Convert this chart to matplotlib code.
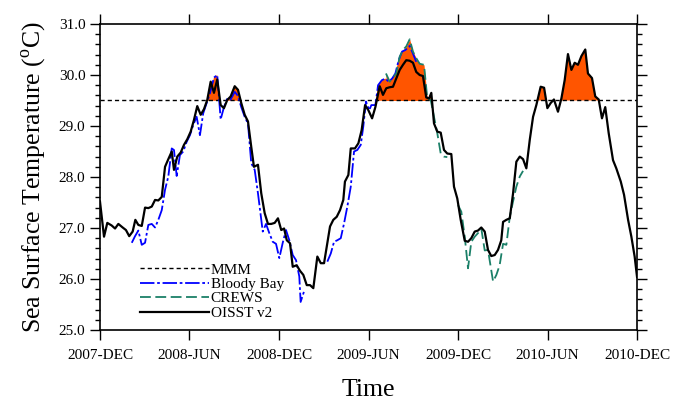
import numpy as np
import matplotlib
matplotlib.use("Agg")
import matplotlib.pyplot as plt

plt.rcParams['font.family'] = ['Liberation Serif', 'DejaVu Serif']
plt.rcParams['mathtext.fontset'] = 'custom'
plt.rcParams['mathtext.rm'] = 'Liberation Serif'

# x values: months since 2007-DEC
tick_labels = ["2007-DEC", "2008-JUN", "2008-DEC", "2009-JUN", "2009-DEC", "2010-JUN", "2010-DEC"]
tick_months = [0, 6, 12, 18, 24, 30, 36]

mmm = 29.5

oisst_t = [0.00, 0.27, 0.49, 0.78, 1.01, 1.23, 1.52, 1.74, 1.96, 2.19, 2.37, 2.57, 2.80, 3.02, 3.24, 3.47,
           3.69, 3.91, 4.14, 4.36, 4.58, 4.81, 4.96, 5.18, 5.41, 5.63, 5.85, 6.08, 6.30, 6.52, 6.75, 6.97,
           7.19, 7.42, 7.64, 7.86, 8.09, 8.31, 8.53, 8.76, 9.03, 9.25, 9.47, 9.70, 9.92, 10.14, 10.32, 10.59,
           10.81, 11.04, 11.26, 11.48, 11.71, 11.93, 12.15, 12.34, 12.52, 12.74, 12.92, 13.18, 13.41, 13.63,
           13.86, 14.08, 14.30, 14.57, 14.80, 15.02, 15.42, 15.64, 15.87, 16.09, 16.31, 16.42, 16.65, 16.81,
           17.09, 17.32, 17.54, 17.77, 17.99, 18.24, 18.46, 18.75, 18.97, 19.19, 19.42, 19.64, 19.86, 20.09,
           20.31, 20.53, 20.76, 20.98, 21.20, 21.43, 21.65, 21.87, 22.06, 22.21, 22.39, 22.61, 22.84, 23.06,
           23.28, 23.55, 23.73, 23.95, 24.18, 24.45, 24.67, 24.89, 25.12, 25.34, 25.56, 25.79, 26.01, 26.23,
           26.46, 26.68, 26.90, 27.02, 27.24, 27.47, 27.69, 27.91, 28.14, 28.36, 28.58, 28.81, 29.03, 29.25,
           29.54, 29.77, 29.99, 30.21, 30.43, 30.70, 30.93, 31.15, 31.37, 31.60, 31.82, 32.04, 32.27, 32.53,
           32.71, 32.98, 33.20, 33.43, 33.65, 33.87, 34.10, 34.39, 34.61, 34.91, 35.13, 35.40, 35.62, 35.84,
           36.00]
oisst_v = [27.52, 26.83, 27.10, 27.05, 26.99, 27.08, 27.01, 26.96, 26.84, 26.93, 27.16, 27.06, 27.04, 27.40,
           27.39, 27.42, 27.55, 27.54, 27.61, 28.20, 28.35, 28.50, 28.14, 28.40, 28.48, 28.63, 28.74, 28.89,
           29.12, 29.39, 29.22, 29.33, 29.51, 29.87, 29.65, 29.91, 29.41, 29.35, 29.51, 29.58, 29.78, 29.71,
           29.45, 29.22, 29.09, 28.59, 28.20, 28.24, 27.68, 27.29, 27.08, 27.08, 27.10, 27.19, 26.96, 26.99,
           26.76, 26.70, 26.24, 26.27, 26.16, 26.08, 25.88, 25.88, 25.82, 26.44, 26.31, 26.31, 27.03, 27.16,
           27.22, 27.35, 27.55, 27.91, 28.04, 28.56, 28.56, 28.66, 28.92, 29.41, 29.31, 29.15, 29.37, 29.78,
           29.61, 29.74, 29.76, 29.77, 29.93, 30.10, 30.20, 30.29, 30.28, 30.24, 30.06, 30.00, 29.98, 29.56,
           29.54, 29.65, 29.05, 28.89, 28.87, 28.53, 28.46, 28.45, 27.81, 27.58, 27.16, 26.75, 26.73, 26.80,
           26.93, 26.95, 27.01, 26.93, 26.57, 26.45, 26.47, 26.57, 26.76, 27.12, 27.16, 27.19, 27.68, 28.30,
           28.40, 28.35, 28.17, 28.73, 29.18, 29.41, 29.77, 29.75, 29.35, 29.45, 29.52, 29.28, 29.54, 29.90,
           30.41, 30.10, 30.24, 30.20, 30.37, 30.50, 30.03, 29.94, 29.58, 29.52, 29.15, 29.37, 28.86, 28.33,
           28.17, 27.91, 27.65, 27.16, 26.83, 26.44, 26.04]

bloody_t = [2.13, 2.35, 2.57, 2.80, 3.02, 3.24, 3.47, 3.69, 3.91, 4.14, 4.36, 4.58, 4.81, 4.96, 5.14, 5.36,
            5.58, 5.81, 6.03, 6.25, 6.48, 6.70, 6.92, 7.15, 7.37, 7.64, 7.86, 8.09, 8.31, 8.53, 8.76, 9.03,
            9.25, 9.47, 9.70, 9.92, 10.14, 10.37, 10.59, 10.91, 11.13, 11.35, 11.58, 11.80, 12.02, 12.25,
            12.47, 12.69, 12.92, 13.14, 13.36, 13.45, 13.67, 14.40,
            15.24, 15.47, 15.69, 15.91, 16.14, 16.36, 16.58, 16.81, 17.03, 17.25, 17.48, 17.65, 17.83, 18.05,
            18.19, 18.46, 18.64, 18.90, 19.13, 19.35, 19.58, 19.80, 20.02, 20.25, 20.47, 20.76, 20.98, 21.20]
bloody_v = [26.71, 26.84, 26.95, 26.67, 26.71, 27.06, 27.08, 27.01, 27.16, 27.35, 27.75, 28.01, 28.56, 28.53,
            28.02, 28.43, 28.50, 28.69, 28.82, 29.02, 29.18, 28.82, 29.25, 29.45, 29.64, 29.95, 30.00, 29.13,
            29.37, 29.54, 29.52, 29.67, 29.59, 29.37, 29.18, 29.05, 28.27, 28.14, 27.68, 26.93, 27.08, 26.90,
            26.73, 26.69, 26.41, 26.71, 26.96, 26.76, 26.47, 26.37, 26.05, 25.55, 25.75, np.nan,
            26.34, 26.50, 26.73, 26.76, 26.80, 27.09, 27.42, 27.81, 28.50, 28.53, 28.63, 28.99, 29.48, 29.31,
            29.41, 29.41, 29.80, 29.90, 29.93, 29.87, 29.93, 30.03, 30.29, 30.46, 30.49, 30.57, 30.42, 30.26]

crews_t = [19.17, 19.42, 19.64, 19.86, 20.09, 20.31, 20.53, 20.76, 20.98, 21.20, 21.43, 21.72, 21.94, 22.17,
           22.39, 22.61, 22.84, 23.06, 23.28, 23.60,
           24.00, 24.22, 24.45, 24.67, 24.89, 25.12, 25.34, 25.56, 25.79, 26.01, 26.35, 26.57, 26.79, 27.02,
           27.24, 27.47, 27.69, 27.91, 28.14, 28.36]
crews_v = [30.03, 29.87, 29.95, 30.03, 30.36, 30.49, 30.56, 30.70, 30.46, 30.33, 30.22, 30.20, 29.54, 29.51,
           29.18, 28.86, 28.46, 28.40, 28.39, np.nan,
           27.45, 27.32, 26.83, 26.21, 26.73, 26.83, 26.90, 26.99, 26.56, 26.57, 25.95, 26.08, 26.27, 26.69,
           26.67, 27.22, 27.52, 27.81, 28.01, 28.12]

fig = plt.figure(figsize=(6.83, 4.0), dpi=100)
ax = fig.add_axes([0.1464, 0.175, 0.7863, 0.765])

fill_color = '#FF5500'
for t, v in [(oisst_t, oisst_v), (bloody_t, bloody_v), (crews_t, crews_v)]:
    t = np.array(t, dtype=float)
    v = np.array(v, dtype=float)
    ax.fill_between(t, mmm, v, where=(v >= mmm), interpolate=True, color=fill_color, lw=0, zorder=1)

ax.axhline(mmm, color='black', lw=1.0, ls=(0, (3, 2.2)), zorder=2, label='MMM')
ax.plot(bloody_t, bloody_v, color='#0000FF', lw=1.3, ls=(0, (8, 1.5, 1.5, 1.5)), zorder=3, label='Bloody Bay')
ax.plot(crews_t, crews_v, color='#1B8068', lw=1.3, ls=(0, (6, 2.5)), zorder=3, label='CREWS')
ax.plot(oisst_t, oisst_v, color='black', lw=1.6, zorder=4, label='OISST v2')

ax.set_xlim(0, 36)
ax.set_ylim(25, 31)
ax.set_xticks(tick_months)
ax.set_xticklabels(tick_labels, fontsize=11)
ax.set_yticks(np.arange(25, 31.01, 1.0))
ax.set_yticks(np.arange(25, 31.01, 0.2), minor=True)
ax.yaxis.set_major_formatter(matplotlib.ticker.FormatStrFormatter('%.1f'))
ax.tick_params(axis='both', which='major', direction='out', length=7, width=1.0, labelsize=11)
ax.tick_params(axis='y', which='minor', direction='out', length=3.5, width=1.0)
ax.tick_params(axis='x', which='major', top=True, pad=7)
ax.tick_params(axis='y', which='both', right=True)
for s in ax.spines.values():
    s.set_linewidth(1.2)

ax.set_ylabel(r'Sea Surface Temperature ($^{\mathrm{o}}$C)', fontsize=18.5, labelpad=8)
ax.set_xlabel('Time', fontsize=18.5, labelpad=12)

leg = ax.legend(loc='lower left', bbox_to_anchor=(0.075, 0.033), frameon=False, fontsize=11,
                handlelength=4.5, handletextpad=0.1, labelspacing=0.05, borderpad=0, borderaxespad=0)

fig.savefig('out.png', dpi=100)
